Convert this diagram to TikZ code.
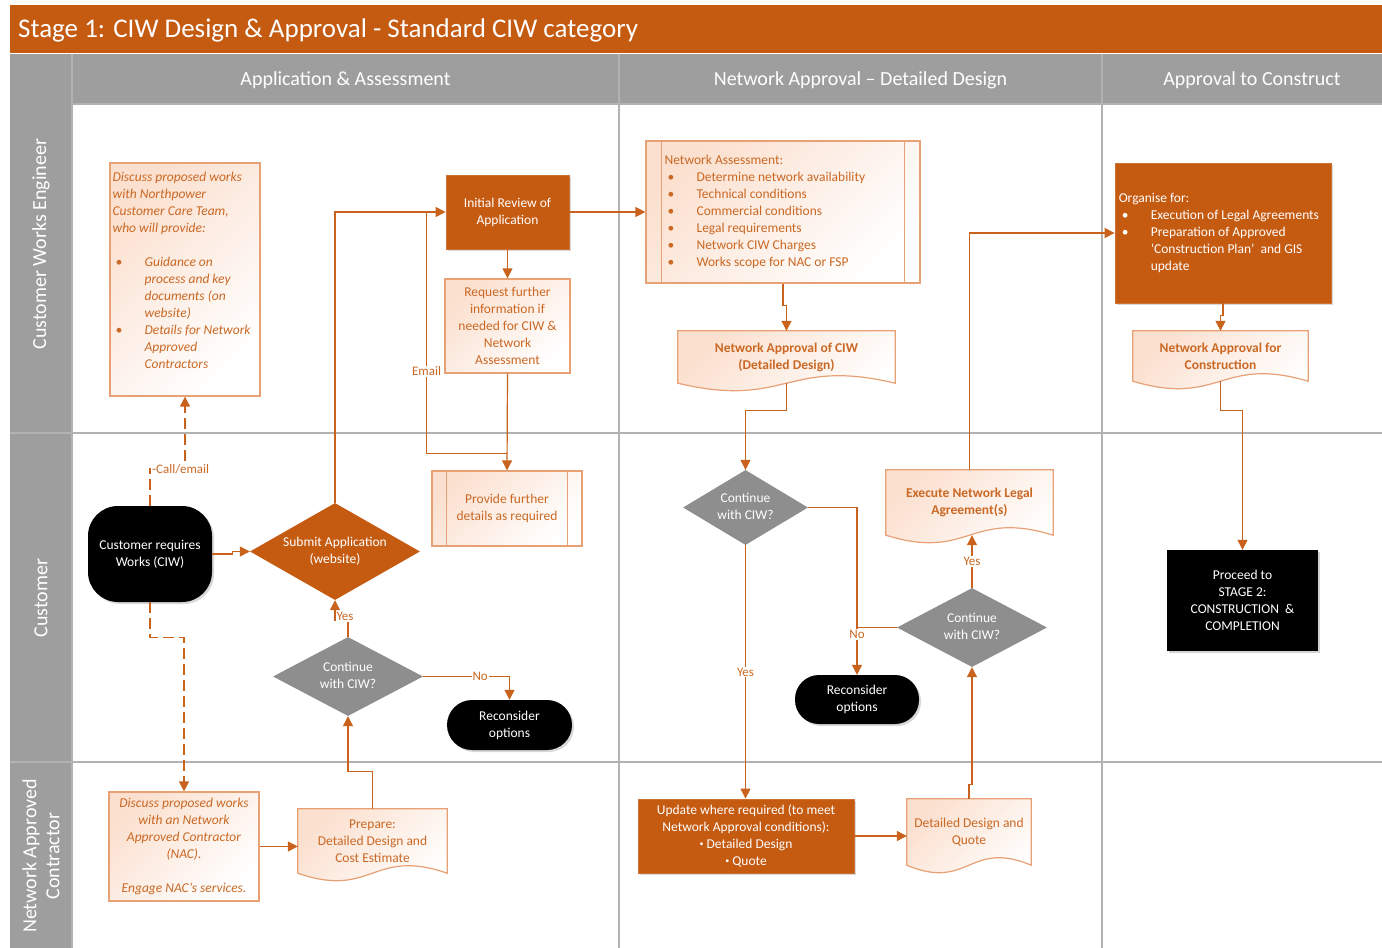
\documentclass[tikz,border=0pt]{standalone}
\usepackage{fontspec}
\setmainfont{Carlito}
\usetikzlibrary{arrows.meta,shapes.geometric,calc,shadows}
\definecolor{titleorg}{HTML}{C55A11}
\definecolor{orgfill}{HTML}{C55A11}
\definecolor{orgtext}{HTML}{CA6824}
\definecolor{boxline}{HTML}{E8A075}
\definecolor{tint}{HTML}{FBE0CF}
\definecolor{conncol}{HTML}{C8621C}
\definecolor{lanegray}{HTML}{9E9E9E}
\definecolor{gridline}{HTML}{B2B2B2}
\definecolor{decgray}{HTML}{8E8E8E}
\pgfdeclarelayer{bg}
\pgfsetlayers{bg,main}
\newcommand\bodysize{\fontsize{13.5pt}{17pt}\selectfont}
\newcommand\lblsize{\fontsize{13pt}{15pt}\selectfont}
\newcommand\bitem{\hspace*{3pt}\makebox[29pt][l]{\textbullet}}
\newcommand\bcont{\hspace*{32pt}}
\newcommand\smallbul{\raisebox{2pt}{\fontsize{8pt}{8pt}\selectfont\textbullet}}
\newcommand\dtext[1]{\makebox[0pt]{\begin{tabular}{@{}c@{}}#1\end{tabular}}}
% wavy-bottomed document outline around a node
\newcommand\docoutline[1]{%
  \begin{pgfonlayer}{bg}
  \path[docshape] (#1.north west) -- (#1.north east) -- (#1.south east)
    .. controls ($(#1.south)+(0,-26)$) and ($(#1.south)+(0,26)$) .. (#1.south west) -- cycle;
  \end{pgfonlayer}}
% inner vertical bars of a predefined-process box
\newcommand\innerbars[2]{%
  \draw[boxline, line width=1.2pt] ($(#1.north west)+(#2,0)$) -- ($(#1.south west)+(#2,0)$);
  \draw[boxline, line width=1.2pt] ($(#1.north east)+(-#2,0)$) -- ($(#1.south east)+(-#2,0)$);}
\begin{document}
\begin{tikzpicture}[x=1pt,y=-1pt,
  every node/.style={font=\bodysize},
  conn/.style={draw=conncol, line width=1.2pt, -{Triangle[length=10pt,width=10pt]}},
  plain/.style={draw=conncol, line width=1.2pt},
  dashedconn/.style={conn, dash pattern=on 11pt off 5pt},
  lbl/.style={font=\lblsize, text=orgtext, fill=white, inner sep=1pt},
  lightbox/.style={rectangle, draw=boxline, line width=1.2pt, top color=tint, bottom color=white, shading angle=45, text=orgtext, align=center, inner sep=0pt},
  docshape/.style={draw=boxline, line width=1.2pt, top color=tint, bottom color=white, shading angle=45},
  docnode/.style={rectangle, draw=none, text=orgtext, align=center, inner sep=0pt},
  orgbox/.style={rectangle, fill=orgfill, draw=orgfill!85!white, line width=0.8pt, text=white, align=center, inner sep=0pt, drop shadow={shadow xshift=2pt, shadow yshift=-2pt, opacity=0.3}},
  term/.style={rectangle, rounded corners=#1, fill=black, text=white, align=center, inner sep=0pt, drop shadow={shadow xshift=2pt, shadow yshift=-2pt, opacity=0.3}},
  dec/.style={diamond, fill=decgray, text=white, inner sep=0pt},
  listtext/.style={anchor=west, align=left, inner sep=0pt},
  lanetext/.style={text=white, font=\fontsize{20pt}{23pt}\selectfont, align=center, inner sep=0pt}
]
\useasboundingbox (0,0) rectangle (1382,948);

% swimlane frame
\begin{pgfonlayer}{bg}
\fill[white] (0,0) rectangle (1382,948);
\fill[titleorg] (10,5) rectangle (1382,53);
\fill[lanegray] (10,54) rectangle (1382,104);
\fill[lanegray] (10,104) rectangle (72,948);
\draw[gridline, line width=1.6pt] (10,433) -- (1382,433) (10,762) -- (1382,762);
\draw[gridline, line width=1.4pt] (619,54) -- (619,948) (1102,54) -- (1102,948)
  (72,54) -- (72,948) (72,104) -- (1382,104);
\end{pgfonlayer}

\node[anchor=west, text=white, font=\fontsize{27pt}{30pt}\selectfont, inner sep=0pt] (title) at (18,30)
  {Stage 1: CIW Design \& Approval - Standard CIW category};
\node[lanetext] (colA) at (345.5,80) {Application \& Assessment};
\node[lanetext] (colB) at (860.5,80) {Network Approval – Detailed Design};
\node[lanetext] (colC) at (1252,80) {Approval to Construct};
\node[lanetext, rotate=90] (laneA) at (41,244) {Customer Works Engineer};
\node[lanetext, rotate=90] (laneB) at (41,598) {Customer};
\node[lanetext, rotate=90] (laneC) at (41,856) {Network Approved\\Contractor};

% Customer Works Engineer lane
\node[lightbox, minimum width=150pt, minimum height=233pt] (cwe1) at (185,279.5) {};
\node[listtext, text=orgtext, font=\bodysize\itshape] (cwe1txt) at ($(cwe1.west)+(3,-9)$)
  {Discuss proposed works\\with Northpower\\Customer Care Team,\\who will provide:\\[17pt]%
   \bitem Guidance on\\\bcont process and key\\\bcont documents (on\\\bcont website)\\%
   \bitem Details for Network\\\bcont Approved\\\bcont Contractors};

\node[orgbox, minimum width=123pt, minimum height=74pt] (init) at (507.5,212) {Initial Review of\\Application};
\node[lightbox, minimum width=125pt, minimum height=94pt] (req) at (507.5,326)
  {Request further\\information if\\needed for CIW \&\\Network\\Assessment};

\node[lightbox, minimum width=274pt, minimum height=142pt] (na) at (783,212) {};
\innerbars{na}{16}
\node[listtext, text=orgtext] (natxt) at ($(na.west)+(19,0)$)
  {Network Assessment:\\\bitem Determine network availability\\\bitem Technical conditions\\%
   \bitem Commercial conditions\\\bitem Legal requirements\\\bitem Network CIW Charges\\%
   \bitem Works scope for NAC or FSP};

\node[docnode, font=\bodysize\bfseries, minimum width=217pt, minimum height=52pt] (nadoc) at (786.5,357)
  {Network Approval of CIW\\(Detailed Design)};
\docoutline{nadoc}

\node[orgbox, minimum width=216pt, minimum height=140pt] (org) at (1223,233) {};
\node[listtext, text=white] (orgtxt) at ($(org.west)+(4,0)$)
  {Organise for:\\\bitem Execution of Legal Agreements\\\bitem Preparation of Approved\\%
   \bcont ‘Construction Plan’\ \ and GIS\\\bcont update};

\node[docnode, font=\bodysize\bfseries, minimum width=175pt, minimum height=50pt] (nac2) at (1220.5,356)
  {Network Approval for\\Construction};
\docoutline{nac2}

% Customer lane
\node[term=30pt, minimum width=124pt, minimum height=96pt] (cust) at (150,554) {Customer requires\\Works (CIW)};
\node[diamond, fill=orgfill, text=white, inner sep=0pt, minimum width=170pt, minimum height=97pt] (sub) at (335,551.5)
  {\dtext{Submit Application\\(website)}};
\node[lightbox, minimum width=150pt, minimum height=75pt] (prov) at (507,508.5) {Provide further\\details as required};
\innerbars{prov}{15}
\node[dec, minimum width=150pt, minimum height=79pt] (dia1) at (348,676.5) {\dtext{Continue\\with CIW?}};
\node[term=25pt, minimum width=125pt, minimum height=50pt] (rec1) at (509.5,725) {Reconsider\\options};

\node[dec, minimum width=125pt, minimum height=75pt] (dia2) at (745.5,507.5) {\dtext{Continue\\with CIW?}};
\node[docnode, font=\bodysize\bfseries, minimum width=167pt, minimum height=65pt] (exec) at (969.5,502.5)
  {Execute Network Legal\\Agreement(s)};
\docoutline{exec}
\node[dec, minimum width=150pt, minimum height=79pt] (dia3) at (972,627.5) {\dtext{Continue\\with CIW?}};
\node[term=24pt, minimum width=124pt, minimum height=49pt] (rec2) at (857,699.5) {Reconsider\\options};

\node[rectangle, fill=black, text=white, align=center, inner sep=0pt, minimum width=151pt, minimum height=101pt,
  drop shadow={shadow xshift=2pt, shadow yshift=-2pt, opacity=0.35}] (proc) at (1242.5,600.5)
  {Proceed to\\STAGE 2:\\CONSTRUCTION\ \ \&\\COMPLETION};

% Network Approved Contractor lane
\node[lightbox, font=\bodysize\itshape, minimum width=150pt, minimum height=109pt] (nac) at (184,846.5)
  {Discuss proposed works\\with an Network\\Approved Contractor\\(NAC).\\[17pt]Engage NAC’s services.};
\node[docnode, minimum width=149pt, minimum height=64pt] (prep) at (372.5,841)
  {Prepare:\\Detailed Design and\\Cost Estimate};
\docoutline{prep}
\node[orgbox, minimum width=216pt, minimum height=74pt] (upd) at (746,836)
  {Update where required (to meet\\Network Approval conditions):\\\smallbul\ Detailed Design\\\smallbul\ Quote};
\node[docnode, minimum width=124pt, minimum height=66pt] (ddq) at (969,832) {Detailed Design and\\Quote};
\docoutline{ddq}

% connectors
\draw[dashedconn] (cust.north) -- ++(0,-37) -| (cwe1.south);
\node[lbl, anchor=west] (callmail) at ($(cust.north)+(1,-37)$) {-Call/email};
\draw[dashedconn] (cust.south) -- ++(0,35) -| (nac.north);
\draw[conn] (cust.east) -- ++(20,0) |- (sub.west);
\draw[conn] (sub.north) |- (init.west);
\draw[plain] ($(prov.north)+(0,-17)$) -| node[lbl, pos=0.67] (email) {Email} ($(init.west)+(-19,0)$);
\draw[conn] (init.south) -- (req.north);
\draw[conn] (req.south) -- (prov.north);
\draw[conn] (init.east) -- (na.west);
\draw[conn] (na.south) -- ++(0,22) -| (nadoc.north);
\draw[conn] (nadoc.south) -- ++(0,27) -| (dia2.north);
\draw[conn] (dia2.south) -- node[lbl] (yes2) {Yes} (dia2.south |- upd.north);
\draw[conn] (dia2.east) -| node[lbl, pos=0.88] (no2) {No} (rec2.north);
\draw[plain] (dia3.west) -- (dia3.west -| rec2.north);
\draw[conn] (dia3.north) -- node[lbl] (yes3) {Yes} (dia3.north |- exec.south);
\draw[conn] (exec.north) |- (org.west);
\draw[conn] (ddq.north) -- ++(0,-14) -| (dia3.south);
\draw[conn] (upd.east) -- (upd.east -| ddq.west);
\draw[conn] (prep.north) -- ++(0,-37) -| (dia1.south);
\draw[conn] (dia1.north) -- ++(0,-16) -| (sub.south);
\node[lbl] (yes1) at ($(dia1.north)+(-3,-20)$) {Yes};
\draw[conn] (dia1.east) -| node[lbl, pos=0.33] (no1) {No} (rec1.north);
\draw[conn] (nac.east) -- (nac.east -| prep.west);
\draw[conn] (org.south) -- ++(0,12) -| (nac2.north);
\draw[conn] (nac2.south) -- ++(0,29) -| (proc.north);
\end{tikzpicture}
\end{document}
